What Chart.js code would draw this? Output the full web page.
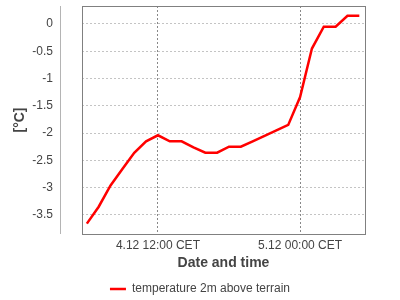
<!DOCTYPE html>
<html lang="en">
<head>
<meta charset="UTF-8">
<title>temperature 2m above terrain</title>
<script src="https://cdn.jsdelivr.net/npm/chart.js"></script>
<style>
  html, body { margin: 0; padding: 0; background: #fff; }
</style>
</head>
<body>
<canvas id="tempChart" width="400" height="300"></canvas>
<script>
// hours counted from 4.12 00:00 CET
const hours = [6, 7, 8, 9, 10, 11, 12, 13, 14, 15, 16, 17, 18, 19, 20, 21, 22, 23, 24, 25, 26, 27, 28, 29];
const temps = [-3.66, -3.35, -2.96, -2.66, -2.36, -2.15, -2.04, -2.15, -2.15, -2.26, -2.36, -2.36,
               -2.25, -2.25, -2.15, -2.05, -1.95, -1.85, -1.34, -0.45, -0.05, -0.05, 0.15, 0.15];
const tickHours = [12, 24];
const tickLabels = ['4.12 12:00 CET', '5.12 00:00 CET'];
const yTicks = [0, -0.5, -1, -1.5, -2, -2.5, -3, -3.5];

const FONT = 'Liberation Sans';
const TEXT = '#444';

// white background, plot frame, detached y axis line, legend centred on the page
const frame = {
    id: 'frame',
    afterLayout(chart) {
        const lg = chart.legend;
        if (!lg) return;
        lg.left = 0;
        lg.right = chart.width;
        lg.top += 5;
        lg.bottom += 5;
    },
    beforeDraw(chart) {
        const ctx = chart.ctx;
        ctx.save();
        ctx.fillStyle = '#fff';
        ctx.fillRect(0, 0, chart.width, chart.height);
        ctx.restore();
    },
    afterDatasetsDraw(chart) {
        const { ctx, chartArea: a } = chart;
        ctx.save();
        ctx.strokeStyle = '#808080';
        ctx.lineWidth = 1;
        ctx.strokeRect(Math.round(a.left) + 0.5, Math.round(a.top) + 0.5,
                       Math.round(a.right - a.left), Math.round(a.bottom - a.top));
        ctx.strokeStyle = '#b4b4b4';
        ctx.beginPath();
        const x = Math.round(a.left) - 22 + 0.5;
        ctx.moveTo(x, a.top);
        ctx.lineTo(x, a.bottom);
        ctx.stroke();
        ctx.restore();
    }
};

const ctx = document.getElementById('tempChart').getContext('2d');
const tempChart = new Chart(ctx, {
    type: 'line',
    data: {
        datasets: [{
            label: 'temperature 2m above terrain',
            data: hours.map((h, i) => ({ x: h, y: temps[i] })),
            borderColor: '#ff0000',
            backgroundColor: '#ff0000',
            borderWidth: 2.5,
            pointRadius: 0,
            tension: 0
        }]
    },
    options: {
        responsive: false,
        animation: false,
        layout: { padding: { top: 6, right: 35, left: 0, bottom: 0 } },
        plugins: {
            tooltip: { enabled: false },
            legend: {
                position: 'bottom',
                labels: {
                    usePointStyle: true,
                    pointStyle: 'line',
                    pointStyleWidth: 16,
                    padding: 5,
                    color: TEXT,
                    font: { family: FONT, size: 12 }
                }
            }
        },
        scales: {
            x: {
                type: 'linear',
                min: 5.59,
                max: 29.48,
                afterBuildTicks: s => { s.ticks = tickHours.map(v => ({ value: v })); },
                afterFit: s => { s.height = 39; },
                ticks: {
                    callback: (v, i) => tickLabels[i],
                    autoSkip: false,
                    maxRotation: 0,
                    padding: 4,
                    color: TEXT,
                    font: { family: FONT, size: 12 }
                },
                grid: { color: '#888', drawTicks: false },
                border: { display: false, dash: [2, 2] },
                title: {
                    display: true,
                    text: 'Date and time',
                    color: TEXT,
                    font: { family: FONT, size: 14, weight: 'bold' },
                    padding: { top: 0, bottom: 1 }
                }
            },
            y: {
                min: -3.85,
                max: 0.33,
                afterBuildTicks: s => { s.ticks = yTicks.map(v => ({ value: v })); },
                afterFit: s => { s.width = 82; s.paddingTop = 0; s.paddingBottom = 0; },
                ticks: {
                    callback: v => String(v),
                    padding: 29,
                    color: TEXT,
                    font: { family: FONT, size: 12 }
                },
                grid: { color: '#c4c4c4', drawTicks: false },
                border: { display: false, dash: [2, 2] },
                title: {
                    display: true,
                    text: '[°C]',
                    color: TEXT,
                    font: { family: FONT, size: 14, weight: 'bold' },
                    padding: { top: 12, bottom: 0 }
                }
            }
        }
    },
    plugins: [frame]
});
</script>
</body>
</html>
